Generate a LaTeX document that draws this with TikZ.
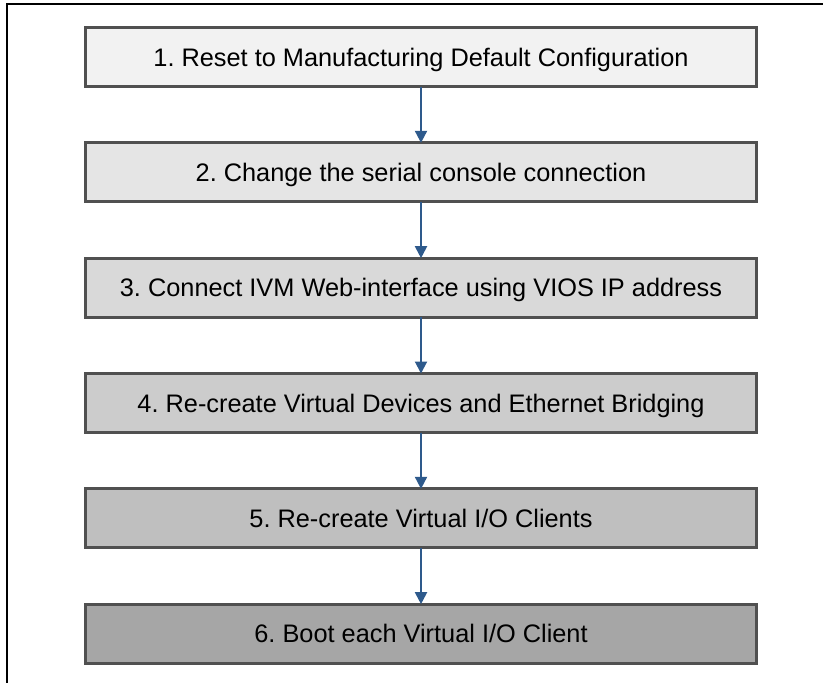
\documentclass[tikz,border=0pt]{standalone}
\usepackage{fontspec}
\setmainfont{Liberation Sans}
\usetikzlibrary{positioning,arrows.meta}
\definecolor{boxline}{HTML}{505050}
\definecolor{flowblue}{HTML}{2E5A8C}
\frenchspacing
\begin{document}
\begin{tikzpicture}[x=0.75pt, y=-0.75pt,
        stepbox/.style={draw=boxline, line width=2.25pt, minimum width=503.25pt,
            minimum height=44.25pt, inner sep=0pt, outer sep=0pt,
            text height=13.6pt, text depth=0pt, font=\fontsize{19}{22}\selectfont},
        flow/.style={draw=flowblue, line width=1.5pt, -{Triangle[width=9pt,length=9pt]}},
        node distance=42.25pt]
            \useasboundingbox (0,0) rectangle (823,683);
            \draw[line width=0.9pt] (823,4) -- (7,4) -- (7,683);
            \node[stepbox, fill=black!5] (s1) at (421,57) {1. Reset to Manufacturing Default Configuration};
            \node[stepbox, fill=black!10, below=of s1] (s2) {2. Change the serial console connection};
            \node[stepbox, fill=black!15, below=of s2] (s3) {3. Connect IVM Web-interface using VIOS IP address};
            \node[stepbox, fill=black!20, below=of s3] (s4) {4. Re-create Virtual Devices and Ethernet Bridging};
            \node[stepbox, fill=black!25, below=of s4] (s5) {5. Re-create Virtual I/O Clients};
            \node[stepbox, fill=black!35, below=of s5] (s6) {6. Boot each Virtual I/O Client};
            \draw[flow] (s1) -- (s2);
            \draw[flow] (s2) -- (s3);
            \draw[flow] (s3) -- (s4);
            \draw[flow] (s4) -- (s5);
            \draw[flow] (s5) -- (s6);
        \end{tikzpicture}
\end{document}
